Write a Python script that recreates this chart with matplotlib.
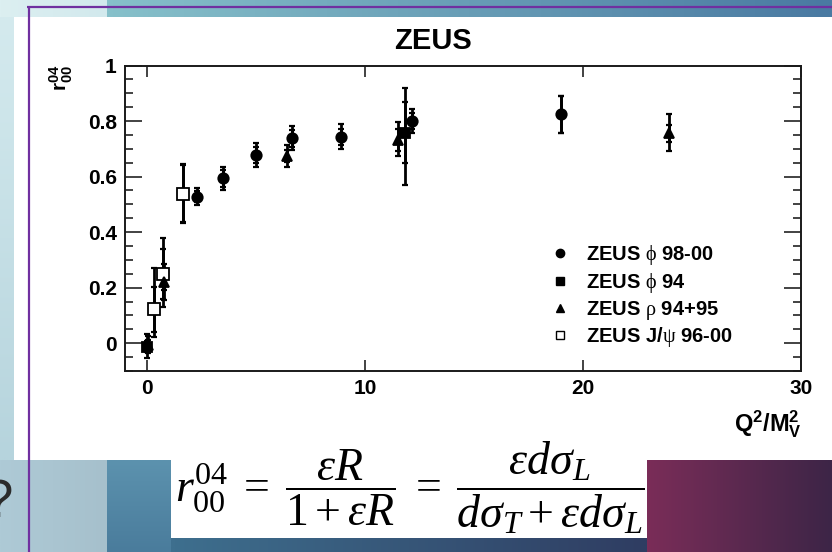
import numpy as np
import matplotlib
matplotlib.use("Agg")
import matplotlib.pyplot as plt
from matplotlib.patches import Rectangle
from matplotlib.lines import Line2D

plt.rcParams['font.family'] = ['Liberation Sans', 'DejaVu Sans']
plt.rcParams['mathtext.fontset'] = 'custom'
plt.rcParams['mathtext.rm'] = 'Liberation Serif'
plt.rcParams['mathtext.it'] = 'Liberation Serif:italic'
plt.rcParams['mathtext.bf'] = 'Liberation Sans:bold'
plt.rcParams['mathtext.sf'] = 'Liberation Sans'

# ---------------- data ----------------
phi9800_x = [2.32, 3.50, 5.01, 6.67, 8.89, 12.17, 18.98]
phi9800_y = [0.528, 0.594, 0.678, 0.738, 0.742, 0.800, 0.824]
phi9800_stat = [0.02, 0.03, 0.03, 0.03, 0.03, 0.03, 0.066]
phi9800_tot_lo = [0.03, 0.042, 0.044, 0.042, 0.044, 0.044, 0.066]
phi9800_tot_hi = [0.03, 0.042, 0.044, 0.044, 0.046, 0.044, 0.066]

phi94_x = [0.0, 11.84]
phi94_y = [-0.012, 0.758]
phi94_stat = [0.02, 0.11]
phi94_tot_lo = [0.042, 0.19]
phi94_tot_hi = [0.044, 0.16]

rho_x = [0.05, 0.79, 6.44, 11.53, 23.93]
rho_y = [-0.005, 0.222, 0.674, 0.731, 0.756]
rho_stat = [0.015, 0.03, 0.02, 0.04, 0.03]
rho_tot_lo = [0.03, 0.065, 0.04, 0.057, 0.064]
rho_tot_hi = [0.03, 0.065, 0.04, 0.064, 0.068]

jpsi_x = [0.34, 0.73, 1.68]
jpsi_y = [0.122, 0.25, 0.537]
jpsi_stat = [0.08, 0.09, 0.105]
jpsi_tot_lo = [0.10, 0.12, 0.10]
jpsi_tot_hi = [0.15, 0.13, 0.11]

labels = [r"ZEUS $\mathrm{\phi}$ 98-00", r"ZEUS $\mathrm{\phi}$ 94",
          r"ZEUS $\mathrm{\rho}$ 94+95", r"ZEUS J/$\mathrm{\psi}$ 96-00"]
x_ticks = [0, 10, 20, 30]
y_ticks = [0, 0.2, 0.4, 0.6, 0.8, 1]
y_tick_labels = ["0", "0.2", "0.4", "0.6", "0.8", "1"]

W, H = 832, 552
fig = plt.figure(figsize=(W / 100, H / 100), dpi=100)

# ---------------- slide background (pixel coordinates) ----------------
bg = fig.add_axes([0, 0, 1, 1], zorder=0)
bg.set_xlim(0, W)
bg.set_ylim(H, 0)
bg.axis('off')

def grad(ax, x0, x1, y0, y1, c0, c1, horizontal=True):
    c0 = np.array(matplotlib.colors.to_rgb(c0))
    c1 = np.array(matplotlib.colors.to_rgb(c1))
    t = np.linspace(0, 1, 64)
    cols = c0[None, :] * (1 - t[:, None]) + c1[None, :] * t[:, None]
    img = cols[None, :, :] if horizontal else cols[:, None, :]
    ax.imshow(img, extent=(x0, x1, y1, y0), aspect='auto', interpolation='bilinear', zorder=1)

grad(bg, 0, 107, 0, 17, '#dcefF1', '#d2e9ed')
grad(bg, 107, 832, 0, 17, '#86c0ca', '#4a7aa2')
grad(bg, 0, 14, 17, 460, '#d4eaee', '#b6d4dd', horizontal=False)
grad(bg, 0, 107, 460, 552, '#aecad6', '#a6c0cc')
grad(bg, 107, 171, 460, 552, '#5c92ae', '#4a7c9c', horizontal=False)
grad(bg, 171, 647, 538, 552, '#3e6f8e', '#2f3d62')
grad(bg, 647, 832, 460, 552, '#7a2d58', '#3d2547')
bg.add_patch(Rectangle((14, 17), W - 14, 443, facecolor='white', edgecolor='none', zorder=2))
bg.add_patch(Rectangle((171, 459), 476, 79, facecolor='white', edgecolor='none', zorder=2))
bg.plot([27, W], [6.5, 6.5], color='#7030a0', lw=1.6, zorder=3, solid_capstyle='butt')
bg.plot([28.5, 28.5], [5.5, H], color='#7030a0', lw=1.6, zorder=3, solid_capstyle='butt')
bg.text(-1, 517, '?', fontsize=38, fontweight='normal', color='#2b2b2b',
        ha='center', va='baseline', zorder=3)

# formula
bg.text(410, 488, r"$r^{04}_{00}\;=\;\dfrac{\varepsilon R}{1+\varepsilon R}\;=\;"
        r"\dfrac{\varepsilon d\sigma_L}{d\sigma_T+\varepsilon d\sigma_L}$",
        fontsize=33, fontweight='normal', ha='center', va='center', color='black', zorder=4)

# ---------------- chart ----------------
ax = fig.add_axes([125 / W, 1 - 371 / H, 676 / W, 305.5 / H], zorder=5)
ax.patch.set_alpha(0)
ax.set_xlim(-1, 30)
ax.set_ylim(-0.1, 1.0)

def series(x, y, stat, tlo, thi, marker, ms, mfc):
    ax.errorbar(x, y, yerr=[tlo, thi], fmt='none', ecolor='black', elinewidth=2.0,
                capsize=2.2, capthick=1.6, zorder=3)
    ax.errorbar(x, y, yerr=stat, fmt='none', ecolor='black', elinewidth=2.0,
                capsize=2.2, capthick=1.6, zorder=3)
    ln, = ax.plot(x, y, linestyle='none', marker=marker, ms=ms, mfc=mfc,
                  mec='black', mew=1.3, zorder=4)
    return ln

h4 = series(jpsi_x, jpsi_y, jpsi_stat, jpsi_tot_lo, jpsi_tot_hi, 's', 8.0, 'white')
h2 = series(phi94_x, phi94_y, phi94_stat, phi94_tot_lo, phi94_tot_hi, 's', 7.0, 'black')
h3 = series(rho_x, rho_y, rho_stat, rho_tot_lo, rho_tot_hi, '^', 7.0, 'black')
h1 = series(phi9800_x, phi9800_y, phi9800_stat, phi9800_tot_lo, phi9800_tot_hi, 'o', 7.5, 'black')

for s in ax.spines.values():
    s.set_linewidth(1.4)
    s.set_color('#1a1a1a')

ax.set_xticks(x_ticks)
ax.set_xticklabels([str(t) for t in x_ticks])
ax.set_yticks(y_ticks)
ax.set_yticklabels(y_tick_labels)
ax.set_yticks(np.arange(-0.1, 1.0001, 0.05), minor=True)
ax.tick_params(axis='x', which='major', direction='in', top=True, bottom=True,
               length=8, width=1.2, color='#222222', labelsize=15, pad=6)
ax.tick_params(axis='y', which='major', direction='in', left=True, right=True,
               length=12, width=1.2, color='#222222', labelsize=15, pad=6)
ax.tick_params(axis='y', which='minor', direction='in', left=True, right=True,
               length=6, width=1.2, color='#222222')
for lab in ax.get_xticklabels() + ax.get_yticklabels():
    lab.set_fontweight('bold')

fig.text(433 / W, 1 - 41 / H, "ZEUS", fontsize=21, fontweight='bold',
         ha='center', va='center', zorder=6)
fig.text(802 / W, 1 - 424 / H, r"$\mathbf{Q^{2}/M_{V}^{2}}$", fontsize=17,
         ha='right', va='center', zorder=6)
fig.text(61 / W, 1 - 64 / H, r"$\mathbf{r^{04}_{00}}$", fontsize=15, rotation=90,
         ha='center', va='top', zorder=6)

hs = [Line2D([], [], ls='none', marker='o', ms=6, mfc='black', mec='black'),
      Line2D([], [], ls='none', marker='s', ms=5.5, mfc='black', mec='black'),
      Line2D([], [], ls='none', marker='^', ms=5.5, mfc='black', mec='black'),
      Line2D([], [], ls='none', marker='s', ms=6, mfc='white', mec='black', mew=1.0)]
leg = ax.legend(hs, labels, loc='upper left', bbox_to_anchor=(550 / W, 1 - 243 / H),
                bbox_transform=fig.transFigure, frameon=False,
                handlelength=1.0, handletextpad=0.8, labelspacing=0.19, borderpad=0,
                borderaxespad=0, prop={'weight': 'bold', 'size': 14.5})

fig.savefig("out.png", dpi=100)
